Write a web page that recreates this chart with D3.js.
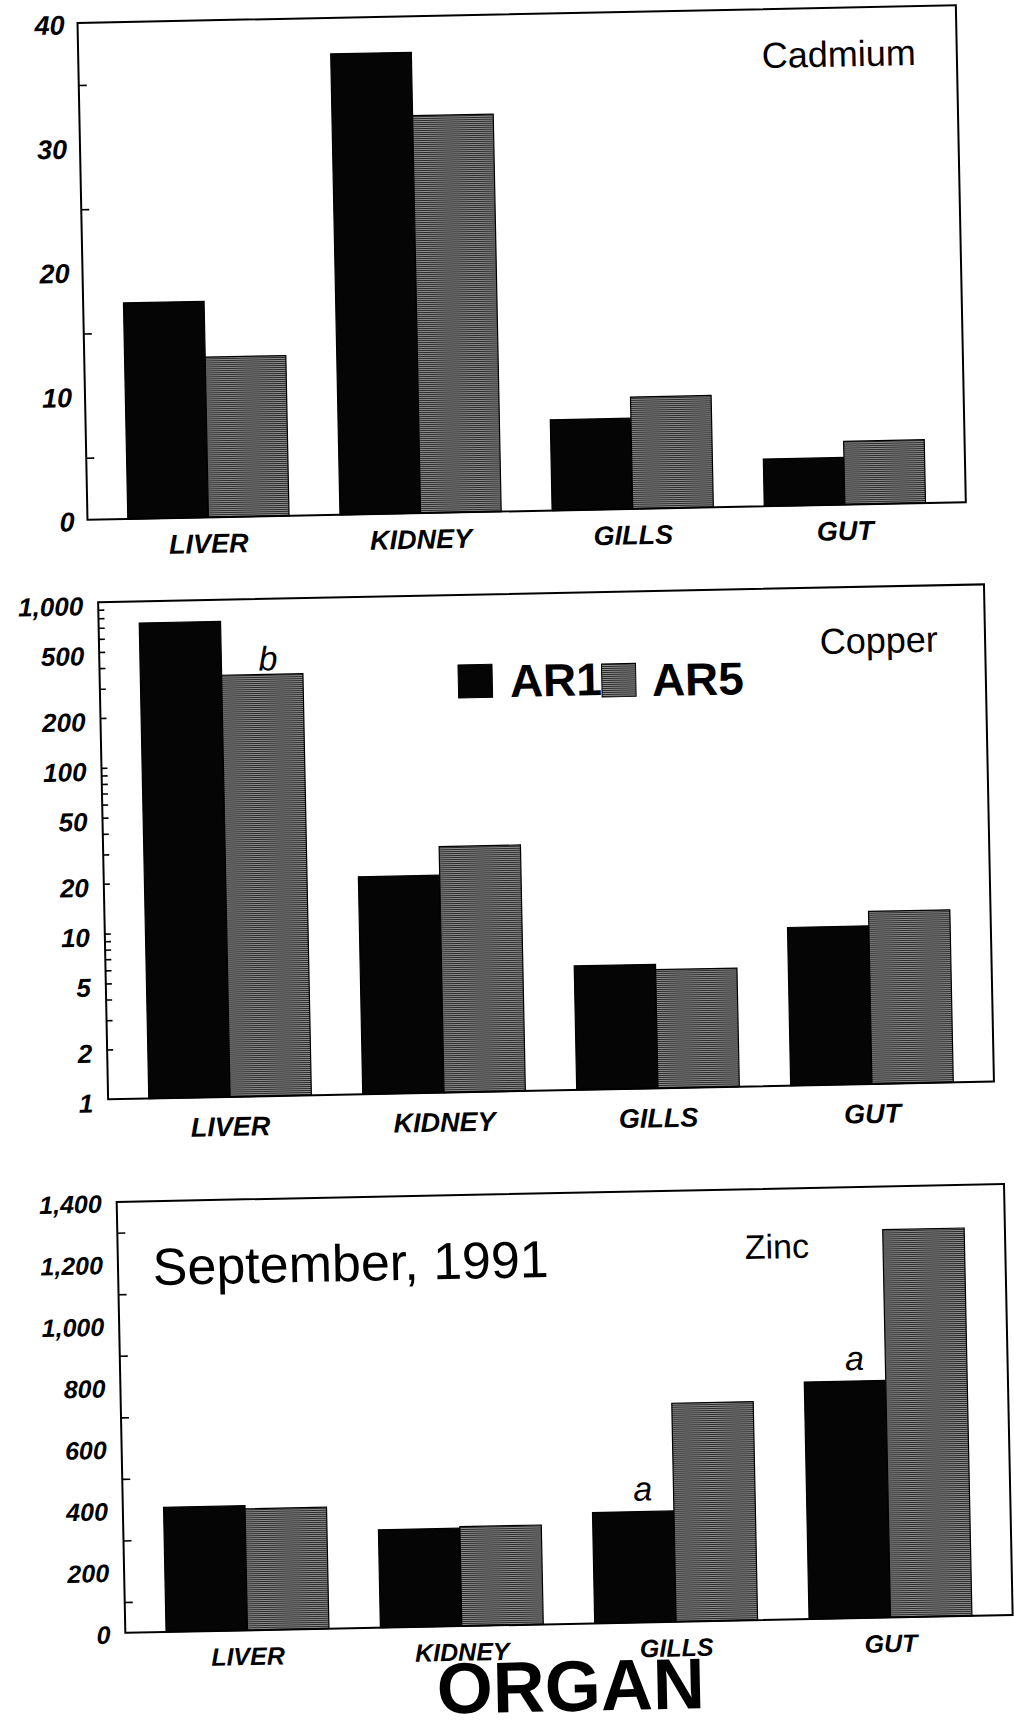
<!DOCTYPE html>
<html>
<head>
<meta charset="utf-8">
<script src="https://cdn.jsdelivr.net/npm/d3@7"></script>
<style>
  html, body { margin: 0; padding: 0; background: #fff; }
  svg { display: block; }
</style>
</head>
<body>
<script>
// ---------------- data ----------------
const organs = ["LIVER", "KIDNEY", "GILLS", "GUT"];
const seriesNames = ["AR1", "AR5"];

const cadmiumAR1 = [17.4, 37.1, 7.3, 3.8];
const cadmiumAR5 = [12.9, 32.0, 9.0, 5.1];

const copperAR1 = [740, 20.5, 5.6, 9.0];
const copperAR5 = [350, 30.5, 5.2, 11.0];

const zincAR1 = [405, 318, 360, 770];
const zincAR5 = [395, 323, 710, 1260];

const cadmiumTicks = [0, 10, 20, 30, 40];
const cadmiumMinorTicks = [5, 15, 25, 35];
const copperTicks = [1, 2, 5, 10, 20, 50, 100, 200, 500, 1000];
const copperMinorTicks = [2, 3, 4, 5, 6, 7, 8, 9, 10, 20, 30, 40, 50, 60, 70, 80, 90, 100, 200, 300, 400, 500, 600, 700, 800, 900];
const zincTicks = [0, 200, 400, 600, 800, 1000, 1200, 1400];
const zincMinorTicks = [100, 300, 500, 700, 900, 1100, 1300];

const copperNotes = [{ organ: "LIVER", series: "AR5", text: "b" }];
const zincNotes = [{ organ: "GILLS", series: "AR1", text: "a" }, { organ: "GUT", series: "AR1", text: "a" }];

const panelTitles = ["Cadmium", "Copper", "Zinc"];
const dateLabel = "September, 1991";
const axisTitle = "ORGAN";

// ---------------- drawing ----------------
const W = 1014, H = 1731;
const FONT = "'Liberation Sans', Arial, Helvetica, sans-serif";

const svg = d3.select("body").append("svg")
  .attr("width", W).attr("height", H)
  .attr("viewBox", `0 0 ${W} ${H}`);

const defs = svg.append("defs");
const pat = defs.append("pattern")
  .attr("id", "ar5").attr("patternUnits", "userSpaceOnUse")
  .attr("width", 4).attr("height", 2);
pat.append("rect").attr("width", 4).attr("height", 2).attr("fill", "#8e8e8e");
pat.append("rect").attr("width", 4).attr("height", 1).attr("fill", "#2a2a2a");

const fills = { AR1: "#050505", AR5: "url(#ar5)" };

const root = svg.append("g").attr("transform", "rotate(-1.15 507 865)");

function drawPanel(cfg) {
  const g = root.append("g").attr("transform", `translate(${cfg.left},${cfg.top})`);
  const x = d3.scaleBand().domain(organs).range([0, cfg.width])
    .paddingInner(0.24).paddingOuter(0.19);
  const xs = d3.scaleBand().domain(seriesNames).range([0, x.bandwidth()]);
  const y = cfg.y;
  const base = y.range()[0];

  const rows = [];
  organs.forEach((o, i) => {
    rows.push({ organ: o, series: "AR1", value: cfg.ar1[i] });
    rows.push({ organ: o, series: "AR5", value: cfg.ar5[i] });
  });

  g.selectAll("rect.bar").data(rows).join("rect")
    .attr("class", "bar")
    .attr("x", d => x(d.organ) + xs(d.series))
    .attr("width", xs.bandwidth())
    .attr("y", d => y(d.value))
    .attr("height", d => base - y(d.value))
    .attr("fill", d => fills[d.series])
    .attr("stroke", "#000").attr("stroke-width", 1.2);

  // inside ticks
  g.append("g")
    .call(d3.axisLeft(y).tickValues(cfg.minor).tickSize(-cfg.tickLen).tickFormat(""))
    .call(a => a.select(".domain").remove())
    .selectAll("line").attr("stroke", "#000").attr("stroke-width", 1.6);

  // tick labels
  g.append("g")
    .call(d3.axisLeft(y).tickValues(cfg.ticks).tickSize(0).tickPadding(cfg.labelPad).tickFormat(d3.format(",")))
    .call(a => a.select(".domain").remove())
    .selectAll("text")
    .attr("y", cfg.labelDy)
    .attr("fill", "#000")
    .style("font-family", FONT)
    .style("font-size", cfg.labelSize + "px")
    .style("font-style", "italic")
    .style("font-weight", cfg.labelWeight);

  // frame
  g.append("rect").attr("x", 0).attr("y", 0)
    .attr("width", cfg.width).attr("height", base)
    .attr("fill", "none").attr("stroke", "#000").attr("stroke-width", 2);

  // category labels
  g.selectAll("text.cat").data(organs).join("text")
    .attr("class", "cat")
    .attr("x", d => x(d) + x.bandwidth() / 2)
    .attr("y", base + cfg.catOffset)
    .attr("text-anchor", "middle")
    .style("font-family", FONT)
    .style("font-size", cfg.catSize + "px")
    .style("font-style", "italic")
    .style("font-weight", "bold")
    .text(d => d);

  // title
  g.append("text")
    .attr("x", cfg.titleX).attr("y", cfg.titleY)
    .style("font-family", FONT)
    .style("font-size", cfg.titleSize + "px")
    .text(cfg.title);

  // annotations
  if (cfg.notes) {
    g.selectAll("text.note").data(cfg.notes).join("text")
      .attr("class", "note")
      .attr("x", d => x(d.organ) + xs(d.series) + xs.bandwidth() / 2 + cfg.noteDx)
      .attr("y", d => {
        const i = organs.indexOf(d.organ);
        const v = d.series === "AR1" ? cfg.ar1[i] : cfg.ar5[i];
        return y(v) + cfg.noteDy;
      })
      .attr("text-anchor", "middle")
      .style("font-family", FONT)
      .style("font-size", "34px")
      .style("font-style", "italic")
      .text(d => d.text);
  }
  return g;
}

// Panel 1: Cadmium
drawPanel({
  left: 94.5, top: 14.5, width: 878.5,
  y: d3.scaleLinear().domain([0, 40]).range([497, 0]),
  ar1: cadmiumAR1, ar5: cadmiumAR5,
  ticks: cadmiumTicks, minor: cadmiumMinorTicks, tickLen: 8,
  labelPad: 13, labelDy: 2, labelSize: 27, labelWeight: "bold",
  catOffset: 35.5, catSize: 27,
  title: panelTitles[0], titleX: 683.5, titleY: 58.8, titleSize: 36
});

// Panel 2: Copper (log)
const p2 = drawPanel({
  left: 103.5, top: 594, width: 886,
  y: d3.scaleLog().domain([1, 1000]).range([497.3, 0]),
  ar1: copperAR1, ar5: copperAR5,
  ticks: copperTicks, minor: copperMinorTicks, tickLen: 6,
  labelPad: 15, labelDy: 4, labelSize: 26, labelWeight: "bold",
  catOffset: 39, catSize: 27,
  title: panelTitles[1], titleX: 720.7, titleY: 66.3, titleSize: 36,
  notes: copperNotes, noteDx: 6, noteDy: -4
});

// legend (inside copper panel)
const legend = p2.append("g");
const legendItems = [
  { name: seriesNames[0], sx: 358.5, sy: 70, tx: 410, ty: 103 },
  { name: seriesNames[1], sx: 502, sy: 72, tx: 552, ty: 105 }
];
legendItems.forEach(it => {
  legend.append("rect").attr("x", it.sx).attr("y", it.sy)
    .attr("width", 34).attr("height", 33)
    .attr("fill", fills[it.name]).attr("stroke", "#000").attr("stroke-width", 1);
  legend.append("text").attr("x", it.tx).attr("y", it.ty)
    .style("font-family", FONT).style("font-size", "46px").style("font-weight", "bold")
    .text(it.name);
});

// Panel 3: Zinc
const p3 = drawPanel({
  left: 110, top: 1194, width: 887.5,
  y: d3.scaleLinear().domain([0, 1400]).range([431, 0]),
  ar1: zincAR1, ar5: zincAR5,
  ticks: zincTicks, minor: zincMinorTicks, tickLen: 8,
  labelPad: 15, labelDy: 2, labelSize: 25, labelWeight: "bold",
  catOffset: 34.7, catSize: 25,
  title: panelTitles[2], titleX: 627, titleY: 69.7, titleSize: 34,
  notes: zincNotes, noteDx: 10, noteDy: -11
});

p3.append("text")
  .attr("x", 34.7).attr("y", 83.8)
  .style("font-family", FONT).style("font-size", "52px")
  .text(dateLabel);

root.append("text")
  .attr("x", 554.3).attr("y", 1712)
  .attr("text-anchor", "middle")
  .style("font-family", FONT).style("font-size", "72px").style("font-weight", "bold")
  .text(axisTitle);
</script>
</body>
</html>
